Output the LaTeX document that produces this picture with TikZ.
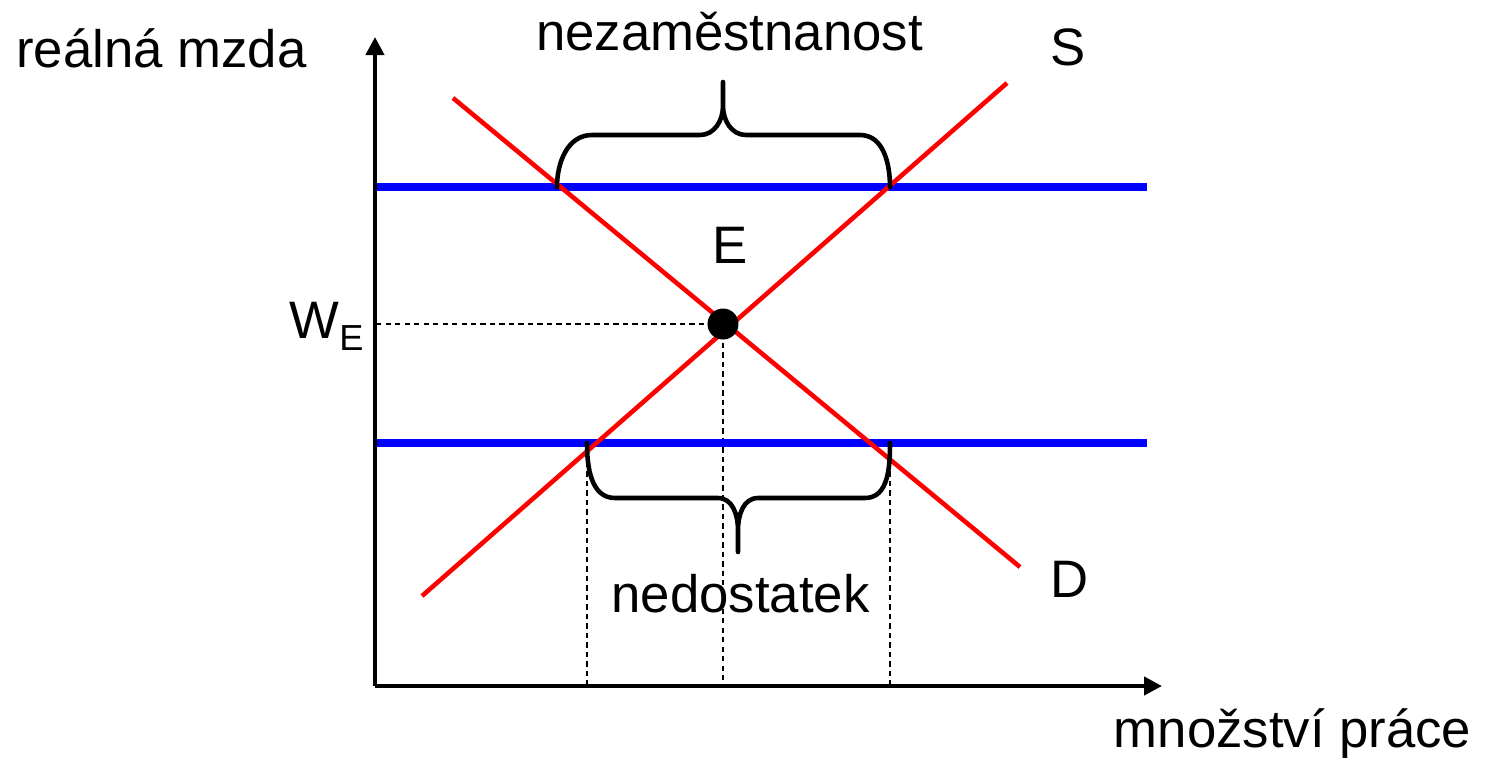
\documentclass[tikz,border=0pt]{standalone}
\usepackage{fontspec}
\setmainfont{Liberation Sans}
\usetikzlibrary{arrows.meta}
\tikzset{every node/.style={inner sep=0pt}}
\tikzset{lbl/.style={anchor=base}}
\tikzset{axis/.style={line width=1.2pt,-{Triangle[length=1.8mm,width=1.8mm]}}}
\tikzset{wage/.style={blue,line width=2pt}}
\tikzset{curve/.style={red,line width=1.3pt}}
\tikzset{guide/.style={line width=0.4pt,dash pattern=on 1.5pt off 1.2pt}}
\tikzset{brace/.style={line width=1.3pt,line cap=round,line join=round}}
\tikzset{dot/.style={circle,fill=black,minimum size=3.1mm}}

\begin{document}
\begin{tikzpicture}[font=\fontsize{15}{18}\selectfont]
      \useasboundingbox (-3.75,-0.72) rectangle (11.34,6.86);
      \coordinate (O) at (0,0);
      \coordinate (ytip) at (0,6.49);
      \coordinate (xtip) at (7.87,0);
      \coordinate (hi0) at (0,4.99);
      \coordinate (hi1) at (7.72,4.99);
      \coordinate (lo0) at (0,2.43);
      \coordinate (lo1) at (7.72,2.43);
      \coordinate (d0) at (0.78,5.88);
      \coordinate (d1) at (6.45,1.19);
      \coordinate (s0) at (0.47,0.90);
      \coordinate (s1) at (6.32,6.03);
      \coordinate (qs) at (2.12,2.43);
      \coordinate (qd) at (5.15,2.43);
      \coordinate (E) at (3.48,3.62);
        \draw[guide] (E) -- (E -| O);
        \draw[guide] (E) -- (E |- O);
        \draw[guide] (qs) -- (qs |- O);
        \draw[guide] (qd) -- (qd |- O);
        \draw[wage] (hi0) -- (hi1);
        \draw[wage] (lo0) -- (lo1);
        \draw[curve] (d0) -- (d1);
        \draw[curve] (s0) -- (s1);
        \draw[axis] (O) -- (ytip);
        \draw[axis] (O) -- (xtip);
        \draw[brace] (1.82,4.99) to[out=90,in=180] (2.17,5.51) -- (3.25,5.51)
          to[out=0,in=-90] (3.48,5.80) -- (3.48,6.04) -- (3.48,5.80)
          to[out=-90,in=180] (3.71,5.51) -- (4.85,5.51) to[out=0,in=90] (5.15,4.99);
        \draw[brace] (qs) to[out=-90,in=180] (2.40,1.88) -- (3.43,1.88)
          to[out=0,in=90] (3.63,1.56) -- (3.63,1.34) -- (3.63,1.56)
          to[out=90,in=180] (3.83,1.88) -- (4.90,1.88) to[out=0,in=-90] (qd);
      \node[dot] (Edot) at (E) {};
      \node[lbl] (ylab) at (-2.135,6.19) {reálná mzda};
      \node[lbl] (xlab) at (9.175,-0.61) {množství práce};
      \node[lbl] (unemp) at (3.545,6.36) {nezaměstnanost};
      \node[lbl] (short) at (3.655,0.74) {nedostatek};
      \node[lbl] (Slab) at (6.93,6.21) {S};
      \node[lbl] (Dlab) at (6.95,0.89) {D};
      \node[lbl] (Elab) at (3.55,4.23) {E};
      \node[anchor=base west] (WE) at (-0.86,3.48) {W\raisebox{-1.2mm}{\fontsize{10.3}{12}\selectfont E}};
    \end{tikzpicture}
\end{document}
